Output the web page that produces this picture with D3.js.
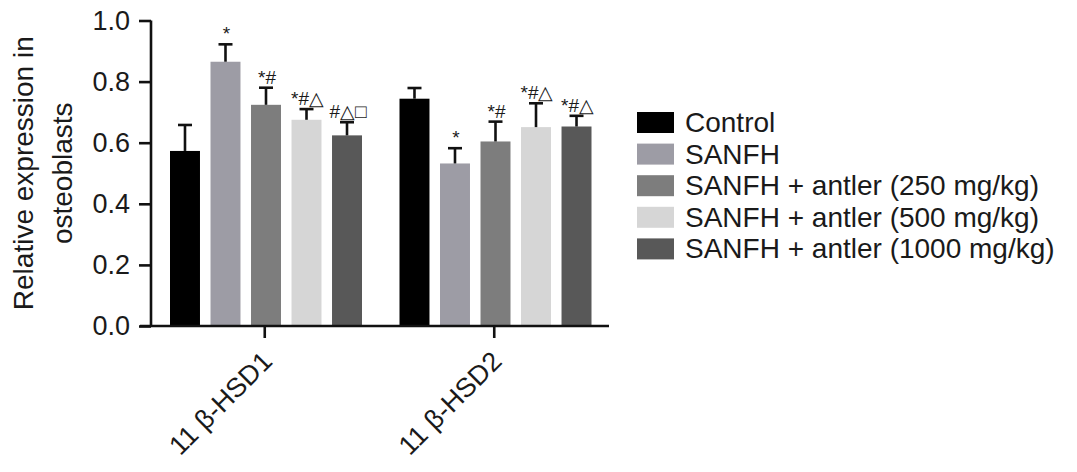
<!DOCTYPE html>
<html>
<head>
<meta charset="utf-8">
<script src="https://cdn.jsdelivr.net/npm/d3@7"></script>
<style>
  html, body { margin: 0; padding: 0; background: #fff; }
  svg { display: block; }
  text { font-family: "Liberation Sans", Arial, Helvetica, sans-serif; fill: #1a1a1a; }
</style>
</head>
<body>
<svg id="chart" width="1077" height="472"></svg>
<script>
// ---- data ----
const categories = ["11 β-HSD1", "11 β-HSD2"];
const seriesNames = ["Control", "SANFH", "SANFH + antler (250 mg/kg)", "SANFH + antler (500 mg/kg)", "SANFH + antler (1000 mg/kg)"];
const seriesColors = ["#000000", "#9d9ca5", "#7d7d7d", "#d6d6d6", "#585858"];
const meansHSD1 = [0.573, 0.865, 0.724, 0.675, 0.624];
const meansHSD2 = [0.744, 0.532, 0.604, 0.651, 0.653];
const errTopHSD1 = [0.658, 0.922, 0.780, 0.710, 0.667];
const errTopHSD2 = [0.779, 0.582, 0.669, 0.729, 0.688];
const marksHSD1 = ["", "*", "*#", "*#\u25B3", "#\u25B3\u25A1"];
const marksHSD2 = ["", "*", "*#", "*#\u25B3", "*#\u25B3"];
const yTicks = [0, 0.2, 0.4, 0.6, 0.8, 1.0];
const yTitleLines = ["Relative expression in", "osteoblasts"];

const rows = [];
[[meansHSD1, errTopHSD1, marksHSD1], [meansHSD2, errTopHSD2, marksHSD2]].forEach((g, gi) => {
  seriesNames.forEach((s, si) => {
    rows.push({ cat: categories[gi], series: s, idx: si, value: g[0][si], err: g[1][si], mark: g[2][si] });
  });
});

// ---- layout ----
const svg = d3.select("#chart");
const x0 = d3.scaleBand().domain(categories).range([150, 609]).paddingInner(0).paddingOuter(0);
const x1 = d3.scaleBand().domain(seriesNames).range([20, 212]).paddingInner(0.26).paddingOuter(0);
const y = d3.scaleLinear().domain([0, 1]).range([326, 20.5]);
const color = d3.scaleOrdinal().domain(seriesNames).range(seriesColors);

// bars
const bx = d => x0(d.cat) + x1(d.series);
svg.append("g").selectAll("rect").data(rows).join("rect")
  .attr("x", bx)
  .attr("y", d => y(d.value))
  .attr("width", x1.bandwidth())
  .attr("height", d => y(0) - y(d.value))
  .attr("fill", d => color(d.series));

// error bars
const eb = svg.append("g").attr("stroke", "#111").attr("stroke-width", 2.6);
eb.selectAll("line.v").data(rows).join("line")
  .attr("x1", d => bx(d) + x1.bandwidth() / 2)
  .attr("x2", d => bx(d) + x1.bandwidth() / 2)
  .attr("y1", d => y(d.value))
  .attr("y2", d => y(d.err));
eb.selectAll("line.c").data(rows).join("line")
  .attr("x1", d => bx(d) + x1.bandwidth() / 2 - 7)
  .attr("x2", d => bx(d) + x1.bandwidth() / 2 + 7)
  .attr("y1", d => y(d.err))
  .attr("y2", d => y(d.err));

// significance marks
svg.append("g").selectAll("text").data(rows.filter(d => d.mark)).join("text")
  .attr("x", d => bx(d) + x1.bandwidth() / 2 + 1)
  .attr("y", d => y(d.err) - 4)
  .attr("text-anchor", "middle")
  .attr("font-size", 19)
  .text(d => d.mark);

// y axis
const yAxis = svg.append("g").attr("transform", "translate(151,0)")
  .call(d3.axisLeft(y).tickValues(yTicks).tickFormat(d3.format(".1f")).tickSize(12).tickPadding(9));
yAxis.select(".domain").attr("stroke", "#111").attr("stroke-width", 2.6).attr("d", `M0,${y(1)}V${y(0)}`);
yAxis.selectAll(".tick line").attr("stroke", "#111").attr("stroke-width", 2.6);
yAxis.selectAll(".tick text").attr("font-size", 27).attr("font-family", "'Liberation Sans', Arial, sans-serif").attr("fill", "#1a1a1a");

// x axis
const xAxis = svg.append("g").attr("transform", "translate(0,326)");
xAxis.append("line").attr("x1", 140).attr("x2", 609).attr("y1", 0).attr("y2", 0)
  .attr("stroke", "#111").attr("stroke-width", 2.6);
xAxis.selectAll("line.t").data(categories).join("line")
  .attr("x1", d => x0(d) + x0.bandwidth() / 2)
  .attr("x2", d => x0(d) + x0.bandwidth() / 2)
  .attr("y1", 0).attr("y2", 12)
  .attr("stroke", "#111").attr("stroke-width", 2.6);
xAxis.selectAll("text").data(categories).join("text")
  .attr("transform", d => `translate(${x0(d) + x0.bandwidth() / 2 + 9},37) rotate(-45)`)
  .attr("text-anchor", "end")
  .attr("font-size", 27)
  .text(d => d);

// y title
const yt = svg.append("text")
  .attr("transform", `translate(0,${(y(0) + y(1)) / 2}) rotate(-90)`)
  .attr("text-anchor", "middle")
  .attr("font-size", 28);
yt.selectAll("tspan").data(yTitleLines).join("tspan")
  .attr("x", 0)
  .attr("y", (d, i) => i === 0 ? 33 : 72)
  .text(d => d);

// legend
const lg = svg.append("g").attr("transform", "translate(637,112)");
const li = lg.selectAll("g").data(seriesNames).join("g")
  .attr("transform", (d, i) => `translate(0,${i * 31.6})`);
li.append("rect").attr("width", 37).attr("height", 21).attr("fill", d => color(d));
li.append("text").attr("x", 48).attr("y", 20).attr("font-size", 28).text(d => d);
</script>
</body>
</html>
